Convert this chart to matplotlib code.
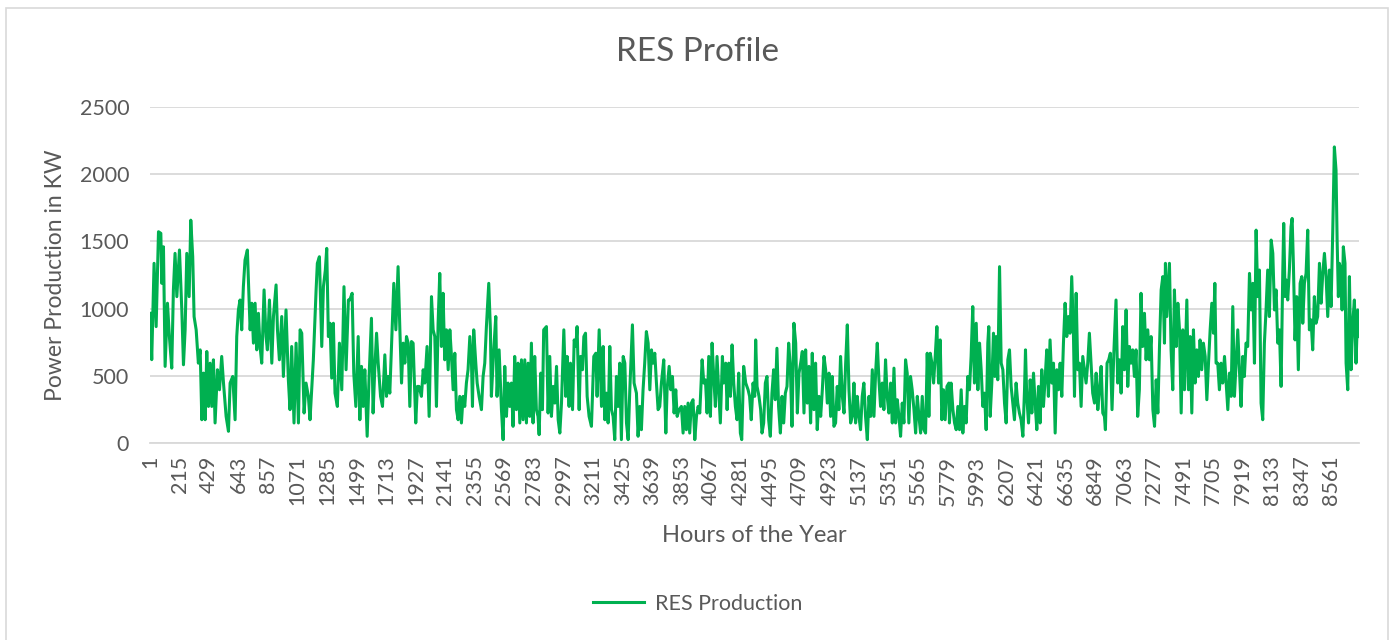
import matplotlib.pyplot as plt
from matplotlib.patches import Rectangle

# Stundenwerte (Spitzen und Taeler)
hours = [
    1, 13, 30, 45, 62, 79, 86, 98, 110, 127, 141, 158, 170, 182, 195, 214, 231, 243, 255, 267,
    284, 296, 310, 320, 335, 351, 364, 376, 388, 400, 412, 424, 436, 448, 460, 472, 489, 504, 520, 533,
    552, 569, 581, 600, 617, 629, 641, 653, 665, 677, 689, 706, 716, 726, 738, 750, 762, 774, 786, 798,
    810, 827, 841, 851, 866, 883, 895, 914, 924, 938, 955, 967, 986, 1003, 1015, 1027, 1044, 1059, 1076, 1088,
    1100, 1117, 1131, 1148, 1160, 1172, 1184, 1204, 1213, 1228, 1245, 1257, 1271, 1281, 1293, 1305, 1317, 1329, 1341, 1358,
    1373, 1390, 1406, 1421, 1438,
    1448, 1465, 1477, 1492, 1509, 1521, 1533, 1545, 1557, 1574, 1588, 1605, 1617, 1629, 1642, 1654, 1671, 1685, 1702, 1714,
    1726, 1738, 1750, 1767, 1782, 1798, 1811, 1823, 1835, 1847, 1859, 1871, 1883, 1895, 1907, 1926, 1938, 1950, 1967, 1980,
    1992, 2008, 2023, 2040, 2052, 2064, 2076, 2088, 2100, 2112, 2124, 2136, 2148, 2161, 2173, 2185, 2197, 2209, 2221, 2233,
    2245, 2257, 2269, 2281, 2293, 2305, 2318, 2330, 2337, 2346, 2361, 2371, 2385, 2402, 2414, 2426, 2438, 2455, 2467, 2474,
    2491, 2506, 2515, 2530, 2547, 2559, 2571, 2583, 2595, 2607, 2619, 2631, 2643, 2655, 2667, 2680, 2692, 2704, 2716, 2728,
    2740, 2752, 2764, 2776, 2788, 2800, 2812, 2820, 2832, 2844, 2853, 2873, 2885, 2897,
    2909, 2922, 2934, 2946, 2958, 2970, 2982, 2999, 3013, 3023, 3037, 3047, 3062, 3074, 3086, 3095, 3110, 3120, 3134, 3144,
    3156, 3168, 3182, 3199, 3216, 3231, 3240, 3255, 3272, 3284, 3296, 3308, 3320, 3332, 3344, 3356, 3368, 3380, 3392, 3404,
    3416, 3429, 3441, 3453, 3465, 3477, 3496, 3508, 3525, 3537, 3549, 3561, 3573, 3585, 3597, 3610, 3622, 3634, 3646, 3658,
    3670, 3682, 3694, 3706, 3723, 3738, 3747, 3762, 3774, 3786, 3798, 3810, 3820, 3834, 3851, 3863, 3875, 3887, 3899, 3911,
    3923, 3935, 3948, 3960, 3972, 3984, 4001, 4013, 4025, 4037, 4049, 4061, 4073, 4085, 4097, 4109, 4121, 4133, 4148, 4157,
    4172, 4182, 4194, 4206, 4218, 4230, 4242, 4254, 4266, 4278, 4288, 4302, 4317, 4334,
    4345, 4357, 4370, 4382, 4389, 4399, 4413, 4425, 4435, 4447, 4459, 4471, 4483, 4495, 4507, 4519, 4531, 4543, 4555, 4568,
    4580, 4592, 4604, 4616, 4628, 4640, 4652, 4666, 4679, 4691, 4703, 4715, 4727, 4739, 4751, 4763, 4775, 4787, 4799, 4811,
    4823, 4835, 4848, 4860, 4872, 4884, 4896, 4908, 4920, 4932, 4944, 4956, 4968, 4980, 4992, 5004, 5017, 5029, 5041, 5053,
    5065, 5077, 5089, 5101, 5113, 5125, 5137, 5149, 5161, 5173, 5185, 5198, 5210, 5222, 5234, 5246, 5258, 5270, 5282, 5294,
    5306, 5318, 5330, 5342, 5354, 5367, 5379, 5391, 5403, 5415, 5427, 5439, 5451, 5463, 5475, 5487, 5499, 5511, 5523, 5536,
    5548, 5560, 5572, 5584, 5596, 5608, 5620, 5632, 5644, 5654, 5666, 5678, 5690, 5702, 5714, 5726, 5738, 5750, 5762, 5775,
    5789,
    5793, 5805, 5818, 5830, 5842, 5854, 5866, 5878, 5890, 5902, 5914, 5926, 5938, 5950, 5962, 5974, 5987, 5999, 6011, 6023,
    6035, 6047, 6059, 6071, 6078, 6088, 6100, 6112, 6122, 6131, 6143, 6156, 6168, 6180, 6192, 6204, 6216, 6228, 6240, 6252,
    6264, 6276, 6288, 6300, 6312, 6325, 6337, 6344, 6353, 6366, 6378, 6390, 6402, 6414, 6426, 6438, 6450, 6462, 6474, 6486,
    6498, 6510, 6522, 6535, 6547, 6559, 6571, 6583, 6595, 6607, 6619, 6631, 6643, 6655, 6667, 6679, 6691, 6699, 6711, 6723,
    6735, 6747, 6759, 6771, 6783, 6795, 6807, 6819, 6831, 6844, 6856, 6868, 6880, 6892, 6904, 6916, 6923, 6935, 6947, 6959,
    6971, 6984, 7000, 7012, 7025, 7037, 7049, 7061, 7073, 7085, 7097, 7109, 7121, 7133, 7145, 7157, 7169, 7181, 7193, 7206,
    7218, 7230,
    7242, 7254, 7267, 7279, 7291, 7303, 7315, 7327, 7339, 7351, 7358, 7368, 7387, 7399, 7411, 7423, 7436, 7448, 7460, 7472,
    7484, 7496, 7513, 7525, 7537, 7549, 7561, 7573, 7585, 7597, 7609, 7621, 7633, 7646, 7658, 7670, 7682, 7694, 7706, 7716,
    7725, 7737, 7749, 7761, 7773, 7786, 7798, 7810, 7822, 7834, 7846, 7858, 7870, 7882, 7894, 7906, 7918, 7930, 7942, 7954,
    7967, 7979, 7991, 8003, 8015, 8027, 8039, 8051, 8063, 8075, 8087, 8099, 8111, 8124, 8136, 8148, 8160, 8172, 8184, 8196,
    8208, 8215, 8225, 8232, 8244, 8256, 8268, 8276, 8285, 8297, 8309, 8321, 8334, 8346, 8353, 8365, 8377, 8389, 8401, 8413,
    8425, 8437, 8449, 8461, 8474, 8486, 8498, 8510, 8522, 8534, 8546, 8558, 8570, 8582, 8594, 8602, 8611, 8618, 8630, 8638,
    8647, 8659, 8667, 8679, 8691, 8703, 8715, 8727, 8739, 8751, 8760,
]

res_kw = [
    965, 620, 1337, 866, 1572, 1560, 1188, 1460, 570, 1040, 792, 557, 1139, 1411, 1089, 1436, 990, 582, 842, 1411,
    1089, 1658, 1386, 940, 842, 594, 693, 173, 520, 173, 681, 272, 594, 272, 619, 149, 545, 396, 644, 446,
    198, 87, 446, 495, 173, 792, 990, 1064, 842, 1163, 1361, 1436, 1139, 842, 1040, 743, 1040, 693, 965, 718,
    594, 1139, 792, 693, 1064, 594, 941, 1176, 842, 619, 941, 495, 990, 470, 248, 718, 149, 743, 149, 842,
    817, 223, 446, 347, 173, 396, 619, 1139, 1337, 1386, 718, 1163, 1287, 1448, 792, 891, 483, 891, 371, 272,
    743, 396, 1163, 545, 1064,
    1064, 1114, 520, 272, 792, 173, 570, 272, 545, 50, 495, 928, 223, 545, 817, 594, 347, 272, 656, 347,
    495, 371, 718, 1188, 842, 1312, 842, 446, 743, 594, 792, 743, 272, 755, 743, 149, 421, 421, 347, 545,
    446, 718, 198, 1089, 842, 792, 272, 891, 1262, 718, 1114, 619, 842, 545, 842, 644, 396, 668, 248, 173,
    347, 149, 347, 272, 446, 545, 792, 594, 272, 842, 594, 446, 347, 248, 495, 594, 866, 1188, 842, 347,
    693, 941, 347, 693, 248, 25, 570, 198, 446, 272, 446, 124, 644, 248, 594, 149, 619, 173, 619, 149,
    594, 198, 743, 149, 644, 248, 198, 62, 520, 248, 842, 866, 223, 644,
    198, 421, 297, 570, 173, 74, 297, 842, 347, 644, 272, 594, 248, 767, 718, 866, 248, 644, 545, 792,
    817, 347, 198, 124, 644, 668, 347, 842, 272, 718, 173, 371, 149, 718, 248, 198, 25, 495, 272, 594,
    25, 644, 594, 149, 25, 396, 879, 446, 371, 50, 272, 99, 396, 594, 829, 743, 396, 693, 594, 668,
    446, 248, 272, 446, 619, 74, 396, 570, 396, 495, 223, 396, 198, 248, 272, 74, 272, 99, 297, 74,
    297, 322, 25, 198, 272, 223, 619, 446, 470, 223, 644, 198, 743, 495, 272, 644, 396, 149, 644, 446,
    594, 248, 594, 347, 730, 446, 272, 173, 520, 74, 25, 570, 446, 396,
    347, 173, 446, 347, 767, 421, 347, 248, 74, 149, 446, 495, 173, 50, 371, 545, 322, 705, 272, 74,
    347, 149, 371, 421, 743, 570, 124, 891, 743, 223, 520, 594, 681, 223, 693, 297, 570, 149, 668, 248,
    594, 99, 347, 198, 396, 644, 545, 297, 520, 198, 495, 124, 149, 421, 248, 644, 347, 223, 594, 879,
    396, 149, 198, 446, 149, 347, 198, 99, 347, 446, 198, 25, 347, 198, 545, 198, 520, 743, 470, 272,
    446, 248, 619, 347, 223, 446, 149, 557, 149, 322, 198, 50, 297, 149, 619, 520, 149, 495, 396, 248,
    74, 347, 198, 74, 347, 99, 74, 668, 198, 668, 594, 446, 644, 866, 446, 767, 173, 396, 173, 421,
    446,
    149, 446, 248, 149, 99, 272, 99, 396, 74, 272, 149, 495, 396, 644, 1015, 446, 891, 396, 743, 545,
    272, 371, 99, 743, 866, 198, 446, 817, 495, 792, 470, 1312, 594, 545, 297, 149, 619, 693, 421, 297,
    173, 446, 297, 223, 173, 50, 396, 693, 347, 149, 470, 223, 520, 297, 99, 421, 149, 545, 272, 470,
    693, 347, 767, 446, 594, 74, 545, 396, 594, 347, 743, 1040, 792, 941, 817, 1238, 842, 347, 1114, 545,
    594, 272, 644, 545, 446, 594, 817, 594, 371, 297, 520, 248, 396, 570, 223, 198, 99, 594, 619, 668,
    248, 668, 1064, 446, 619, 371, 866, 545, 990, 421, 718, 594, 693, 495, 693, 198, 396, 1114, 718, 965,
    619, 842,
    619, 792, 248, 124, 470, 223, 718, 1139, 1238, 743, 1337, 941, 1337, 693, 396, 1139, 718, 1040, 842, 223,
    842, 396, 1064, 396, 792, 223, 842, 446, 693, 495, 767, 545, 743, 644, 322, 594, 842, 1040, 817, 1188,
    594, 594, 396, 594, 446, 644, 446, 248, 520, 347, 1015, 347, 594, 842, 545, 272, 644, 495, 743, 718,
    1262, 990, 1188, 594, 1584, 1089, 1287, 297, 173, 743, 990, 1287, 941, 1510, 1411, 990, 1139, 743, 842, 421,
    1262, 1634, 1089, 1213, 1064, 1287, 1609, 1671, 1337, 767, 1089, 545, 1188, 1238, 891, 1188, 1262, 1584, 842, 916,
    693, 1089, 891, 941, 1337, 1040, 1262, 1411, 1238, 941, 1287, 1015, 1560, 2203, 2030, 1510, 1089, 1337, 1287, 990,
    1460, 1337, 594, 396, 1238, 545, 891, 1064, 594, 990, 792,
]

hour_ticks = list(range(1, 8761, 214))
y_ticks = [0, 500, 1000, 1500, 2000, 2500]

plt.rcParams['font.family'] = ['Lato', 'DejaVu Sans']
grey = '#595959'

fig = plt.figure(figsize=(13.95, 6.4), dpi=100)
ax = fig.add_axes([150 / 1395, 1 - 443 / 640, (1359 - 150) / 1395, (443 - 107) / 640])

ax.plot(hours, res_kw, color='#00B050', linewidth=2.2, label='RES Production')

ax.set_xlim(0.5, 8760.5)
ax.set_ylim(0, 2500)
ax.set_xticks(hour_ticks)
ax.set_xticklabels([str(h) for h in hour_ticks], rotation=90, color=grey, fontsize=15.5)
ax.set_yticks(y_ticks)
ax.set_yticklabels([str(v) for v in y_ticks], color=grey, fontsize=15.5)
ax.tick_params(axis='both', length=0)
ax.tick_params(axis='x', pad=9)
ax.tick_params(axis='y', pad=15)
ax.grid(axis='y', color='#d9d9d9', linewidth=1.3)
ax.set_axisbelow(True)
for s in ['top', 'right', 'left']:
    ax.spines[s].set_visible(False)
ax.spines['bottom'].set_color('#d9d9d9')
ax.spines['bottom'].set_linewidth(1.3)

fig.text(0.5, 1 - 52 / 640, 'RES Profile', color=grey, fontsize=24, ha='center', va='center')
ax.set_xlabel('Hours of the Year', color=grey, fontsize=17, labelpad=14)
ax.set_ylabel('Power Production in KW', color=grey, fontsize=16.5, labelpad=10)

fig.legend(loc='center', bbox_to_anchor=(0.5, 1 - 604 / 640), frameon=False,
           fontsize=15.5, labelcolor=grey, handlelength=2.4, handletextpad=0.5)

# Rahmen um das Diagramm
fig.patches.append(Rectangle((6 / 1395, -0.01), (1388 - 6) / 1395, 1 - 8 / 640 + 0.01,
                             transform=fig.transFigure, fill=False,
                             edgecolor='#d9d9d9', linewidth=1.2))

plt.savefig('out.png', dpi=100)
